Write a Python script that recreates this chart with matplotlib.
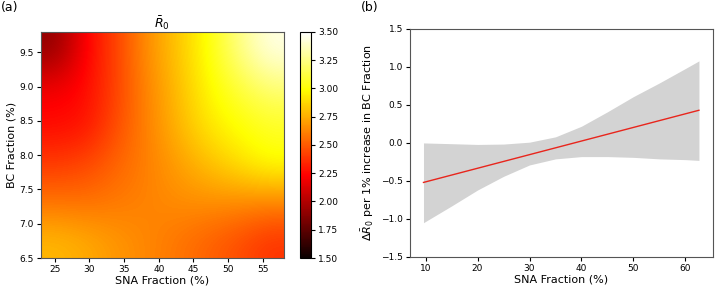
import matplotlib
matplotlib.use('Agg')
import matplotlib.pyplot as plt
import numpy as np

# panel (a): R0 surface
sna_grid = [23, 28, 33, 38, 43, 48, 53, 58]
bc_grid = [6.5, 7.3, 8.1, 8.9, 9.4, 9.8]
r0_grid = [
    [2.78, 2.74, 2.68, 2.63, 2.58, 2.52, 2.46, 2.38],
    [2.57, 2.56, 2.59, 2.62, 2.65, 2.66, 2.65, 2.63],
    [2.40, 2.44, 2.53, 2.61, 2.70, 2.80, 2.90, 3.00],
    [2.26, 2.28, 2.46, 2.62, 2.77, 2.92, 3.00, 3.06],
    [2.20, 2.26, 2.43, 2.63, 2.79, 2.97, 3.10, 3.22],
    [1.90, 2.24, 2.43, 2.66, 2.82, 3.00, 3.25, 3.45],
]

# panel (b): marginal effect of BC (straight line) with confidence band
line_x = [9.6, 62.6]
effect = [-0.52, 0.43]
sna_x = [9.6, 15, 20, 25, 30, 35, 40, 45, 50, 55, 60, 62.6]
band_hi = [0.00, -0.01, -0.02, -0.015, 0.01, 0.08, 0.22, 0.41, 0.61, 0.79, 0.98, 1.08]
band_lo = [-1.05, -0.83, -0.62, -0.44, -0.29, -0.21, -0.18, -0.18, -0.19, -0.21, -0.22, -0.23]

plt.rcParams['font.size'] = 6.5

fig = plt.figure(figsize=(7.18, 2.87), dpi=100)

ax1 = fig.add_axes([0.057, 0.101, 0.338, 0.788])
cax = fig.add_axes([0.418, 0.101, 0.0153, 0.788])
ax2 = fig.add_axes([0.571, 0.105, 0.422, 0.794])

im = ax1.imshow(np.array(r0_grid), origin='lower', aspect='auto',
                extent=[sna_grid[0], sna_grid[-1], bc_grid[0], bc_grid[-1]],
                cmap='hot', vmin=1.5, vmax=3.5, interpolation='bicubic')
ax1.set_xticks([25, 30, 35, 40, 45, 50, 55])
ax1.set_yticks([6.5, 7.0, 7.5, 8.0, 8.5, 9.0, 9.5])
ax1.set_xlabel('SNA Fraction (%)', fontsize=8, labelpad=1)
ax1.set_ylabel('BC Fraction (%)', fontsize=8, labelpad=2)
ax1.set_title(r'$\bar{R}_0$', fontsize=9, pad=3)
ax1.tick_params(length=3, pad=2)

cb = fig.colorbar(im, cax=cax, ticks=np.arange(1.5, 3.51, 0.25))
cb.ax.set_yticklabels([f'{t:.2f}' for t in np.arange(1.5, 3.51, 0.25)])
cb.ax.tick_params(length=3, pad=2)

ax2.fill_between(sna_x, band_lo, band_hi, color='#d3d3d3', linewidth=0)
ax2.plot(line_x, effect, color='#e8251c', linewidth=1)
ax2.set_ylim(-1.5, 1.5)
ax2.set_xlim(7.0, 65.3)
ax2.set_yticks([-1.5, -1.0, -0.5, 0.0, 0.5, 1.0, 1.5])
ax2.set_xticks([10, 20, 30, 40, 50, 60])
ax2.set_xlabel('SNA Fraction (%)', fontsize=8, labelpad=1)
ax2.set_ylabel(r'$\Delta\bar{R}_0$ per 1% increase in BC Fraction',
               fontsize=8, labelpad=4)
ax2.tick_params(length=3, pad=2)

for ax in (ax1, ax2):
    for s in ax.spines.values():
        s.set_color('#555555')

fig.text(0.001, 0.995, '(a)', fontsize=9, va='top', ha='left')
fig.text(0.503, 0.995, '(b)', fontsize=9, va='top', ha='left')

fig.savefig('out.png', dpi=100)
